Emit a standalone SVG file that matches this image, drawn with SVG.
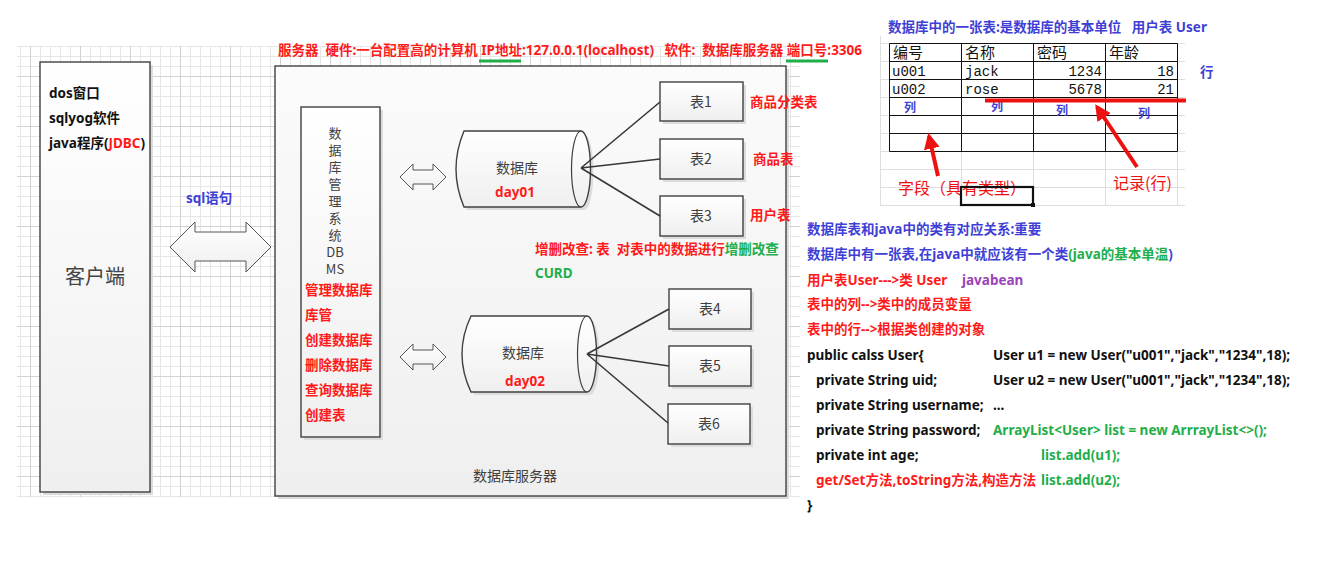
<svg xmlns="http://www.w3.org/2000/svg" width="1341" height="573" viewBox="0 0 1341 573" xml:space="preserve">
<defs>
<pattern id="grid" patternUnits="userSpaceOnUse" x="30" y="26" width="50" height="50">
<path d="M0.5,0V50M10.5,0V50M20.5,0V50M30.5,0V50M40.5,0V50M0,0.5H50M0,10.5H50M0,20.5H50M0,30.5H50M0,40.5H50" stroke="#e6e6e6" stroke-width="1" fill="none"/>
<path d="M0.5,0V50M0,0.5H50" stroke="#d2d2d2" stroke-width="1" fill="none"/>
</pattern>
<linearGradient id="gv" x1="0" y1="0" x2="0" y2="1">
<stop offset="0" stop-color="#ffffff"/><stop offset="1" stop-color="#efefef"/>
</linearGradient>
<linearGradient id="gs" x1="0" y1="0" x2="0" y2="1">
<stop offset="0" stop-color="#fbfbfb"/><stop offset="1" stop-color="#efefef"/>
</linearGradient>
<marker id="rh" viewBox="0 0 10 10" refX="8" refY="5" markerWidth="4" markerHeight="4" orient="auto">
<path d="M0,0L10,5L0,10Z" fill="#ee1111"/>
</marker>
<style>
text{white-space:pre;}
.t{font-family:"Noto Sans","Noto Sans CJK SC",sans-serif;}
.c{font-family:"Noto Sans CJK SC",sans-serif;}
.b{font-weight:bold;font-size:13.5px;}
.red{fill:#ff1a1a;}
.blue{fill:#3f3fd6;}
.green{fill:#1fae4a;}
.purple{fill:#9a44b8;}
.blk{fill:#111;}
.gray{fill:#404040;font-size:14px;}
.box{fill:url(#gv);stroke:#404040;stroke-width:1.4;}
.shadow{fill:#dcdcdc;}
.con{stroke:#383838;stroke-width:1.6;fill:none;}
.darr{fill:url(#gv);stroke:#555;stroke-width:1;}
.cell{font-family:"Liberation Mono","Noto Sans CJK SC",monospace;font-size:14px;fill:#111;}
.cellh{font-family:"Noto Sans CJK SC",sans-serif;font-size:15px;fill:#111;}
.xl{stroke:#dedede;stroke-width:1;fill:none;}
</style>
</defs>
<rect x="0" y="0" width="1341" height="573" fill="#ffffff"/>
<rect x="17" y="46" width="783" height="451" fill="url(#grid)"/>

<!-- title -->
<text class="t b red" x="278" y="55">服务器  硬件:一台配置高的计算机 IP地址:127.0.0.1(localhost)   软件:  数据库服务器 端口号:3306</text>
<line x1="479" y1="61" x2="521" y2="61" stroke="#1fae4a" stroke-width="3"/>
<line x1="786" y1="61" x2="828" y2="61" stroke="#1fae4a" stroke-width="3"/>

<!-- client -->
<g id="client">
<rect class="shadow" x="43" y="65" width="110" height="430"/>
<rect class="box" x="40" y="62" width="110" height="430"/>
<text class="t b blk" x="49" y="98">dos窗口</text>
<text class="t b blk" x="49" y="123">sqlyog软件</text>
<text class="t b blk" x="49" y="148">java程序(<tspan class="red">JDBC</tspan>)</text>
<text class="c" x="95" y="284" font-size="20" fill="#444" text-anchor="middle">客户端</text>
</g>

<g id="sql-arrow">
<text class="t b blue" x="186" y="203">sql语句</text>
<polygon class="darr" points="170,247 195,222 195,232 246,232 246,222 271,247 246,272 246,261 195,261 195,272"/>
</g>

<!-- server -->
<g id="server">
<rect class="shadow" x="278" y="69" width="511" height="430"/>
<rect x="275" y="66" width="511" height="430" fill="url(#gs)" stroke="#404040" stroke-width="1.4"/>
<text class="c" x="515" y="481" font-size="14" fill="#404040" text-anchor="middle">数据库服务器</text>
</g>

<g id="dbms">
<rect class="shadow" x="304" y="110" width="79" height="330"/>
<rect class="box" x="301" y="107" width="79" height="330"/>
<text class="c" font-size="13" fill="#404040" text-anchor="middle"><tspan x="335" y="138">数</tspan><tspan x="335" dy="17">据</tspan><tspan x="335" dy="17">库</tspan><tspan x="335" dy="17">管</tspan><tspan x="335" dy="17">理</tspan><tspan x="335" dy="17">系</tspan><tspan x="335" dy="17">统</tspan><tspan x="335" dy="17">DB</tspan><tspan x="335" dy="17">MS</tspan></text>
<g class="t b red">
<text x="305" y="295">管理数据库</text>
<text x="305" y="320">库管</text>
<text x="305" y="345">创建数据库</text>
<text x="305" y="370">删除数据库</text>
<text x="305" y="395">查询数据库</text>
<text x="305" y="420">创建表</text>
</g>
</g>

<g id="arrows-small">
<polygon class="darr" points="400,177 413,164 413,170 433,170 433,164 446,177 433,190 433,184 413,184 413,190"/>
<polygon class="darr" points="400,357 413,344 413,350 433,350 433,344 446,357 433,370 433,364 413,364 413,370"/>
</g>

<g id="db1">
<path d="M467,134 L584,134 A9.5,38 0 0 1 584,210 L467,210 Q451,172 467,134 Z" class="shadow"/>
<path d="M464,131 L581,131 A9.5,38 0 0 1 581,207 L464,207 Q448,169 464,131 Z" class="box"/>
<path d="M581,131 A9.5,38 0 0 0 581,207" fill="none" stroke="#404040" stroke-width="1.2"/>
<text class="c gray" x="517" y="173" text-anchor="middle">数据库</text>
<text class="t b red" x="515" y="197" font-size="15" text-anchor="middle">day01</text>
</g>

<g id="db2">
<path d="M474,319 L590,319 A9.5,38 0 0 1 590,395 L474,395 Q456,357 474,319 Z" class="shadow"/>
<path d="M471,316 L587,316 A9.5,38 0 0 1 587,392 L471,392 Q453,354 471,316 Z" class="box"/>
<path d="M587,316 A9.5,38 0 0 0 587,392" fill="none" stroke="#404040" stroke-width="1.2"/>
<text class="c gray" x="523" y="358" text-anchor="middle">数据库</text>
<text class="t b red" x="525" y="386" font-size="15" text-anchor="middle">day02</text>
</g>

<g id="t1"><rect class="shadow" x="663" y="85" width="83" height="39"/><rect class="box" x="660" y="82" width="83" height="39"/><text class="c gray" x="701" y="107" text-anchor="middle">表1</text></g>
<g id="t2"><rect class="shadow" x="663" y="142" width="83" height="40"/><rect class="box" x="660" y="139" width="83" height="40"/><text class="c gray" x="701" y="164" text-anchor="middle">表2</text></g>
<g id="t3"><rect class="shadow" x="663" y="199" width="83" height="40"/><rect class="box" x="660" y="196" width="83" height="40"/><text class="c gray" x="701" y="221" text-anchor="middle">表3</text></g>
<g id="t4"><rect class="shadow" x="672" y="292" width="82" height="40"/><rect class="box" x="669" y="289" width="82" height="40"/><text class="c gray" x="710" y="314" text-anchor="middle">表4</text></g>
<g id="t5"><rect class="shadow" x="672" y="349" width="82" height="40"/><rect class="box" x="669" y="346" width="82" height="40"/><text class="c gray" x="710" y="371" text-anchor="middle">表5</text></g>
<g id="t6"><rect class="shadow" x="671" y="407" width="82" height="40"/><rect class="box" x="668" y="404" width="82" height="40"/><text class="c gray" x="709" y="429" text-anchor="middle">表6</text></g>

<g id="connectors">
<path class="con" d="M581,168 L660,102 M581,168 L660,159 M581,168 L660,216"/>
<path class="con" d="M587,354 L669,309 M587,354 L669,366 M587,354 L668,423"/>
</g>

<g id="server-labels" class="t b red">
<text x="750" y="107">商品分类表</text>
<text x="753" y="164">商品表</text>
<text x="750" y="220">用户表</text>
<text x="535" y="254">增删改查: 表  对表中的数据进行<tspan class="green">增删改查</tspan></text>
<text x="535" y="278" class="green">CURD</text>
</g>

<!-- spreadsheet -->
<g id="sheet">
<text class="t b blue" x="888" y="32">数据库中的一张表:是数据库的基本单位   用户表 User</text>
<path class="xl" d="M880,43.5H1185M880,61.5H1185M880,79.5H1185M880,97.5H1185M880,115.5H1185M880,133.5H1185M880,151.5H1185M880,169.5H1185M880,187.5H1185M880,205.5H1185M880.5,36V206M961.5,151V206M1033.5,151V206M1105.5,151V206M1177.5,151V206"/>
<path d="M889.5,43.5H1177.5V151.5H889.5Z M889.5,61.5H1177.5M889.5,79.5H1177.5M889.5,97.5H1177.5M889.5,115.5H1177.5M889.5,133.5H1177.5M961.5,43.5V151.5M1033.5,43.5V151.5M1105.5,43.5V151.5" fill="none" stroke="#111" stroke-width="1"/>
<text class="cellh" x="893" y="58">编号</text>
<text class="cellh" x="965" y="58">名称</text>
<text class="cellh" x="1037" y="58">密码</text>
<text class="cellh" x="1109" y="58">年龄</text>
<text class="cell" x="892" y="76">u001</text>
<text class="cell" x="965" y="76">jack</text>
<text class="cell" x="1102" y="76" text-anchor="end">1234</text>
<text class="cell" x="1174" y="76" text-anchor="end">18</text>
<text class="cell" x="892" y="94">u002</text>
<text class="cell" x="965" y="94">rose</text>
<text class="cell" x="1102" y="94" text-anchor="end">5678</text>
<text class="cell" x="1174" y="94" text-anchor="end">21</text>
<text class="t b blue" x="1200" y="77">行</text>
<g class="c blue" font-weight="bold" font-size="12" text-anchor="middle">
<text x="910" y="112">列</text>
<text x="997" y="111">列</text>
<text x="1062" y="115">列</text>
<text x="1144" y="118">列</text>
</g>
<line x1="985" y1="100.5" x2="1186" y2="100.5" stroke="#ee1111" stroke-width="4"/>
<line x1="938" y1="176" x2="929" y2="136" stroke="#ee1111" stroke-width="4" marker-end="url(#rh)"/>
<line x1="1137" y1="167" x2="1097" y2="107" stroke="#ee1111" stroke-width="4" marker-end="url(#rh)"/>
<text class="c" x="898" y="194" font-size="16" fill="#ee1111">字段（具有类型）</text>
<text class="c" x="1113" y="189" font-size="16" fill="#ee1111">记录(行)</text>
<rect x="961" y="187" width="72" height="18" fill="none" stroke="#111" stroke-width="2.2"/>
<rect x="1031" y="203" width="4" height="4" fill="#111"/>
</g>

<!-- notes -->
<g id="notes" class="t b">
<text x="807" y="234" class="blue">数据库表和java中的类有对应关系:重要</text>
<text x="807" y="259" class="blue">数据库中有一张表,在java中就应该有一个类<tspan class="green">(java的基本单温</tspan>)</text>
<text x="807" y="285" class="red">用户表User---&gt;类 User</text>
<text x="962" y="285" class="purple">javabean</text>
<text x="807" y="309" class="red">表中的列--&gt;类中的成员变量</text>
<text x="807" y="334" class="red">表中的行--&gt;根据类创建的对象</text>
<text x="807" y="360" class="blk">public calss User{</text>
<text x="816" y="385" class="blk">private String uid;</text>
<text x="816" y="410" class="blk">private String username;</text>
<text x="816" y="435" class="blk">private String password;</text>
<text x="816" y="460" class="blk">private int age;</text>
<text x="816" y="485" class="red">get/Set方法,toString方法,构造方法</text>
<text x="807" y="510" class="blk">}</text>
<text x="993" y="360" class="blk">User u1 = new User("u001","jack","1234",18);</text>
<text x="993" y="385" class="blk">User u2 = new User("u001","jack","1234",18);</text>
<text x="993" y="410" class="blk">...</text>
<text x="993" y="435" class="green">ArrayList&lt;User&gt; list = new ArrrayList&lt;&gt;();</text>
<text x="1041" y="460" class="green">list.add(u1);</text>
<text x="1041" y="485" class="green">list.add(u2);</text>
</g>
</svg>
